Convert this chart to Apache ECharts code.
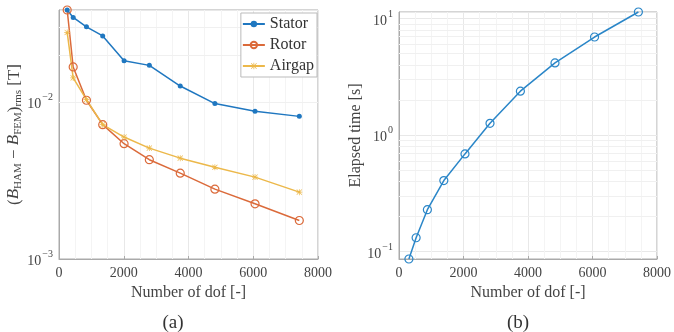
<!DOCTYPE html>
<html>
<head>
<meta charset="utf-8">
<script src="https://cdn.jsdelivr.net/npm/echarts@6/dist/echarts.min.js"></script>
<style>
  html, body { margin: 0; padding: 0; background: #fff; }
  #chart { width: 674px; height: 332px; }
</style>
</head>
<body>
<div id="chart"></div>
<script>
// values
const dofError = [253, 438, 848, 1350, 2010, 2790, 3745, 4815, 6055, 7423]
const stator = [0.0388, 0.0348, 0.0303, 0.0265, 0.0184, 0.0172, 0.0127, 0.00981, 0.00876, 0.00813]
const rotor = [0.0388, 0.0168, 0.0103, 0.0072, 0.00544, 0.0043, 0.00353, 0.00279, 0.00225, 0.00176]
const airgap = [0.0279, 0.0143, 0.0104, 0.0072, 0.0060, 0.0051, 0.0044, 0.00385, 0.00333, 0.00267]

const dofTime = [307, 531, 880, 1390, 2046, 2822, 3764, 4837, 6064, 7423]
const elapsed = [0.086, 0.131, 0.228, 0.406, 0.688, 1.26, 2.38, 4.16, 6.95, 11.4]

const xTicks = [0, 2000, 4000, 6000, 8000]
// minor log grid (2..9 x 10^k)
const minorA = [0.002, 0.003, 0.004, 0.005, 0.006, 0.007, 0.008, 0.009, 0.02, 0.03]
const minorB = [0.2, 0.3, 0.4, 0.5, 0.6, 0.7, 0.8, 0.9, 2, 3, 4, 5, 6, 7, 8, 9]

const FONT = '"Liberation Serif", "DejaVu Serif", serif'
const TXT = '#444'
const supRich = {
  b: { fontFamily: FONT, fontSize: 14, color: TXT, verticalAlign: 'bottom' },
  sup: { fontFamily: FONT, fontSize: 10, color: TXT, padding: [0, 0, 9, 1], verticalAlign: 'bottom' },
}

const logLabel = (v) => {
  const l = Math.log10(v)
  const e = Math.round(l)
  if (Math.abs(l - e) > 1e-6) return ''
  return '{b|10}{sup|' + (e < 0 ? '\u2212' + (-e) : e) + '}'
}

const xAxisOf = (gridIndex) => ({
  type: 'value',
  gridIndex,
  min: xTicks[0],
  max: xTicks[xTicks.length - 1],
  interval: 2000,
  name: 'Number of dof [-]',
  nameLocation: 'middle',
  nameGap: 25,
  nameTextStyle: { fontFamily: FONT, fontSize: 16, color: TXT },
  axisLine: { show: true, lineStyle: { color: '#aaa' } },
  axisTick: { show: true, inside: true, length: 3, lineStyle: { color: '#aaa' } },
  axisLabel: { fontFamily: FONT, fontSize: 14, color: TXT, margin: 7, formatter: (v) => String(v) },
  splitLine: { show: true, lineStyle: { color: '#e8e8e8' } },
  minorTick: { show: false, splitNumber: 4 },
  minorSplitLine: { show: true, lineStyle: { color: '#f4f4f4' } },
})

const yAxisOf = (gridIndex, min, max, name, gap, size, rich) => ({
  type: 'log',
  logBase: 10,
  gridIndex,
  min,
  max,
  name,
  nameLocation: 'middle',
  nameGap: gap,
  nameRotate: 90,
  nameTextStyle: { fontFamily: FONT, fontSize: size, color: TXT, rich },
  axisLine: { show: true, lineStyle: { color: '#aaa' } },
  axisTick: { show: false },
  axisLabel: { formatter: logLabel, rich: supRich, margin: 6 },
  splitLine: { show: true, lineStyle: { color: '#e8e8e8' } },
})

const minorLines = (vals, xi, yi) => ({
  type: 'line',
  xAxisIndex: xi,
  yAxisIndex: yi,
  data: [],
  silent: true,
  z: 1,
  markLine: {
    silent: true,
    z: 1,
    symbol: 'none',
    label: { show: false },
    animation: false,
    lineStyle: { color: '#f0f0f0', type: 'solid', width: 1 },
    data: vals.map((v) => ({ yAxis: v })),
  },
})

// asterisk marker as a filled outline
const starPath = 'path://M4.4,0H5.6V10H4.4Z M0,4.4H10V5.6H0Z M1.1,0.3L9.7,8.9L8.9,9.7L0.3,1.1Z M8.9,0.3L9.7,1.1L1.1,9.7L0.3,8.9Z'

const lineSeries = (name, xs, ys, xi, color, symbol, size, filled) => ({
  name,
  type: 'line',
  xAxisIndex: xi,
  yAxisIndex: xi,
  data: xs.map((x, i) => [x, ys[i]]),
  symbol,
  symbolSize: size,
  showAllSymbol: true,
  clip: false,
  itemStyle: filled
    ? { color, borderWidth: 0 }
    : { color: 'rgba(255,255,255,0)', borderColor: color, borderWidth: 1.2 },
  lineStyle: { color, width: 1.5, type: 'solid' },
  z: 6,
})

const chart = echarts.init(document.getElementById('chart'), null, { renderer: 'canvas' })
chart.setOption({
  animation: false,
  backgroundColor: '#fff',
  title: [
    { text: '(a)', left: 168, top: 309, textAlign: 'center', textStyle: { fontFamily: FONT, fontSize: 19, fontWeight: 'normal', color: '#333' } },
    { text: '(b)', left: 513, top: 309, textAlign: 'center', textStyle: { fontFamily: FONT, fontSize: 19, fontWeight: 'normal', color: '#333' } },
  ],
  grid: [
    { left: 59, top: 10, width: 259, height: 249, show: true, borderColor: '#aaa', borderWidth: 1 },
    { left: 399, top: 12, width: 261, height: 247, show: true, borderColor: '#aaa', borderWidth: 1 },
  ],
  legend: {
    data: ['Stator', 'Rotor', 'Airgap'],
    orient: 'vertical',
    right: 357,
    top: 13,
    padding: [3, 3, 3, 1],
    itemGap: 5,
    itemWidth: 22,
    itemHeight: 8,
    backgroundColor: '#fff',
    borderColor: '#bbb',
    borderWidth: 1,
    borderRadius: 0,
    z: 10,
    textStyle: { fontFamily: FONT, fontSize: 16, color: '#333' },
  },
  xAxis: [xAxisOf(0), xAxisOf(1)],
  yAxis: [
    yAxisOf(0, 0.001, 0.0388,
      '({it|B}{sub|HAM} \u2212 {it|B}{sub|FEM}){sub|rms} [T]', 34, 17, {
        it: { fontFamily: FONT, fontSize: 17, fontStyle: 'italic', color: TXT, verticalAlign: 'top' },
        sub: { fontFamily: FONT, fontSize: 11, color: TXT, padding: [7, 0, 0, 0], verticalAlign: 'top' },
      }),
    yAxisOf(1, 0.086, 11.4, 'Elapsed time [s]', 27, 16),
  ],
  series: [
    minorLines(minorA, 0, 0),
    minorLines(minorB, 1, 1),
    lineSeries('Stator', dofError, stator, 0, '#1f77c0', 'circle', 5, true),
    lineSeries('Rotor', dofError, rotor, 0, '#db6a3a', 'circle', 8, false),
    lineSeries('Airgap', dofError, airgap, 0, '#ecb84a', starPath, 6, true),
    lineSeries('Elapsed', dofTime, elapsed, 1, '#2a86c8', 'circle', 8, false),
  ],
})
</script>
</body>
</html>
